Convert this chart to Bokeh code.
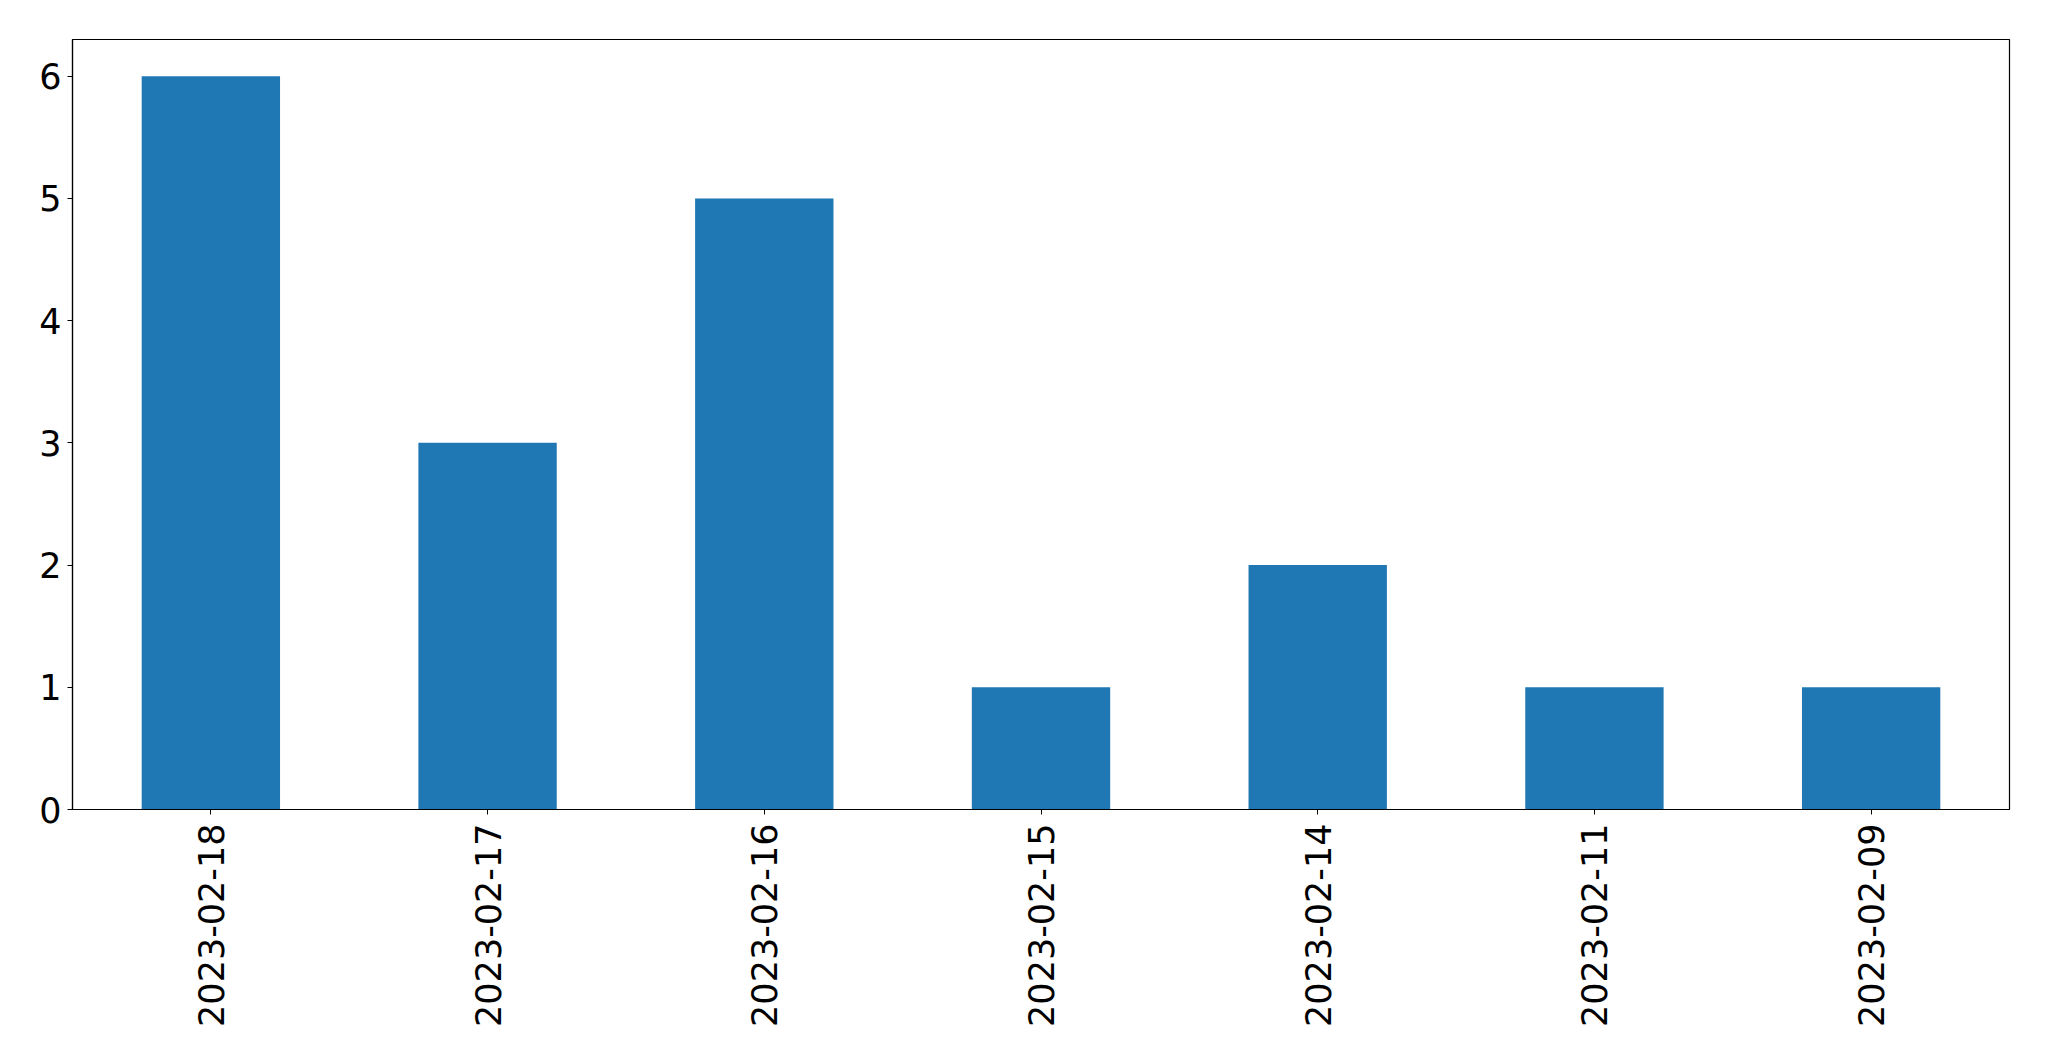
from bokeh.plotting import figure
from bokeh.models import FactorRange, Range1d, FixedTicker, ColumnDataSource
from bokeh.embed import file_html
from bokeh.resources import INLINE
import math

dates = ["2023-02-18", "2023-02-17", "2023-02-16", "2023-02-15",
         "2023-02-14", "2023-02-11", "2023-02-09"]
counts = [6, 3, 5, 1, 2, 1, 1]
y_ticks = [0, 1, 2, 3, 4, 5, 6]

src = ColumnDataSource(data=dict(date=dates, count=counts))

p = figure(width=2033, height=1045, output_backend="svg", toolbar_location=None,
           x_range=FactorRange(factors=dates, range_padding=0),
           y_range=Range1d(0, 6.3),
           min_border_left=72, min_border_right=24, min_border_top=39,
           min_border_bottom=236)

p.vbar(x="date", top="count", width=0.5, bottom=0, source=src,
       fill_color="#1f77b4", line_color=None)

p.xgrid.visible = False
p.ygrid.visible = False
p.outline_line_color = "black"
p.outline_line_width = 1.2
p.background_fill_color = "white"
p.border_fill_color = "white"

p.yaxis.ticker = FixedTicker(ticks=y_ticks)
for ax in (p.xaxis, p.yaxis):
    ax.axis_line_color = "black"
    ax.axis_line_width = 1.2
    ax.major_tick_line_color = "black"
    ax.major_tick_in = 0
    ax.major_tick_out = 5
    ax.minor_tick_line_color = None
    ax.major_label_text_font = "DejaVu Sans"
    ax.major_label_text_font_size = "35px"
    ax.major_label_text_color = "black"

p.yaxis.major_label_standoff = 6
p.xaxis.major_label_standoff = 9
p.xaxis.major_label_orientation = math.pi / 2
p.xaxis.group_text_font_size = "0px"

open("out.html", "w").write(file_html(p, INLINE))
